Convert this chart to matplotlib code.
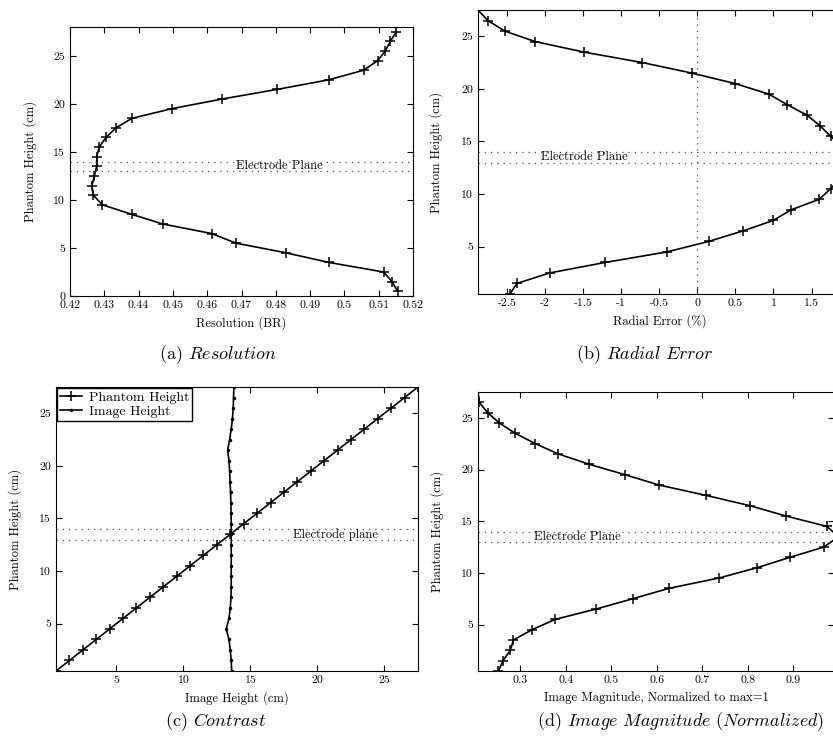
import numpy as np
import matplotlib
matplotlib.use('Agg')
import matplotlib.pyplot as plt
from matplotlib.ticker import FuncFormatter

plt.rcParams['font.family'] = ['cmr10', 'DejaVu Serif']
plt.rcParams['mathtext.fontset'] = 'cm'
plt.rcParams['axes.unicode_minus'] = False

# phantom heights sampled every cm
heights = np.arange(0.5, 28.0, 1.0)

# (a) resolution, listed from bottom (0.5 cm) to top (27.5 cm)
resolution = [0.5155, 0.5139, 0.5114, 0.4954, 0.4829, 0.4684, 0.4613, 0.4470,
              0.4380, 0.4294, 0.4268, 0.4264, 0.4271, 0.4278, 0.4278, 0.4285,
              0.4305, 0.4334, 0.4381, 0.4497, 0.4643, 0.4803, 0.4954, 0.5056,
              0.5097, 0.5119, 0.5134, 0.5151]

# (b) radial error in %
radial_error = [-2.46, -2.37, -1.94, -1.21, -0.40, 0.15, 0.60, 1.00,
                1.23, 1.60, 1.75, 1.875, 1.93, 1.96, 1.90, 1.75,
                1.61, 1.44, 1.18, 0.94, 0.50, -0.07, -0.72, -1.49,
                -2.13, -2.53, -2.75, -2.88]

# (c) image height of the target vs phantom height
image_height = [13.60, 13.57, 13.50, 13.40, 13.20, 13.40, 13.50, 13.55,
                13.57, 13.57, 13.57, 13.57, 13.57, 13.57, 13.57, 13.56,
                13.54, 13.52, 13.48, 13.45, 13.40, 13.30, 13.45, 13.57,
                13.66, 13.72, 13.74, 13.77]

# (d) image magnitude normalised to max = 1
magnitude = [0.252, 0.262, 0.278, 0.285, 0.326, 0.377, 0.467, 0.548,
             0.627, 0.737, 0.821, 0.893, 0.968, 1.000, 0.974, 0.884,
             0.805, 0.708, 0.605, 0.530, 0.452, 0.384, 0.333, 0.289,
             0.254, 0.228, 0.210, 0.207]

W, H = 833, 742
fig = plt.figure(figsize=(W / 100, H / 100), dpi=100)


def box(l, t, r, b):
    return [l / W, 1 - b / H, (r - l) / W, (b - t) / H]


fmt = FuncFormatter(lambda v, p: '{:g}'.format(round(v, 6)))
dots = dict(color='0.3', ls=(0, (1, 4)), lw=0.9)


def style(ax, xlabel):
    ax.tick_params(direction='in', top=True, right=True, length=4, labelsize=8.5)
    ax.set_xlabel(xlabel, fontsize=9)
    ax.set_ylabel('Phantom Height (cm)', fontsize=9)
    ax.yaxis.set_label_coords(-0.095, 0.5)
    ax.xaxis.set_major_formatter(fmt)
    ax.axhline(13, **dots)
    ax.axhline(14, **dots)


line_kw = dict(color='k', lw=1.2, marker='+', ms=7.5, mew=1.1)

# (a)
ax = fig.add_axes(box(70, 27, 413, 296))
ax.plot(resolution, heights, **line_kw)
ax.set_xlim(0.42, 0.52)
ax.set_ylim(0, 28)
ax.set_xticks(np.arange(0.42, 0.5201, 0.01))
ax.set_yticks([0, 5, 10, 15, 20, 25])
style(ax, 'Resolution (BR)')
ax.text(0.481, 13.5, 'Electrode Plane', ha='center', va='center', fontsize=9)

# (b)
ax = fig.add_axes(box(478, 10, 842, 294))
ax.plot(radial_error, heights, **line_kw)
ax.axvline(0, **dots)
ax.set_xlim(-2.88, 1.9)
ax.set_ylim(0.5, 27.5)
ax.set_xticks([-2.5, -2, -1.5, -1, -0.5, 0, 0.5, 1, 1.5])
ax.set_yticks([5, 10, 15, 20, 25])
style(ax, 'Radial Error (%)')
ax.text(-1.48, 13.5, 'Electrode Plane', ha='center', va='center', fontsize=9)

# (c)
ax = fig.add_axes(box(56, 387, 418, 671))
ax.plot(heights, heights, label='Phantom Height', **line_kw)
ax.plot(image_height, heights, color='k', lw=1.2, marker='.', ms=3,
        label='Image Height')
ax.set_xlim(0.5, 27.5)
ax.set_ylim(0.5, 27.5)
ax.set_xticks([5, 10, 15, 20, 25])
ax.set_yticks([5, 10, 15, 20, 25])
style(ax, 'Image Height (cm)')
ax.text(21.36, 13.5, 'Electrode plane', ha='center', va='center', fontsize=9)
leg = ax.legend(loc='upper left', fontsize=10, fancybox=False, framealpha=1,
                edgecolor='k', borderaxespad=0.1, handlelength=1.6,
                labelspacing=0.1, borderpad=0.2, handletextpad=0.5)
leg.get_frame().set_linewidth(1.0)

# (d)
ax = fig.add_axes(box(478, 392, 834, 671))
ax.plot(magnitude, heights, **line_kw)
ax.set_xlim(0.207, 0.99)
ax.set_ylim(0.5, 27.5)
ax.set_xticks([0.3, 0.4, 0.5, 0.6, 0.7, 0.8, 0.9])
ax.set_yticks([5, 10, 15, 20, 25])
style(ax, 'Image Magnitude, Normalized to max=1')
ax.text(0.425, 13.5, 'Electrode Plane', ha='center', va='center', fontsize=9)

# sub-figure captions
captions = [(218, 355, r'(a) $\mathit{Resolution}$'),
            (645, 355, r'(b) $\mathit{Radial\ Error}$'),
            (216, 722, r'(c) $\mathit{Contrast}$'),
            (681, 722, r'(d) $\mathit{Image\ Magnitude\ (Normalized)}$')]
for x, y, s in captions:
    fig.text(x / W, 1 - y / H, s, ha='center', va='center', fontsize=13)

fig.savefig('out.png', dpi=100)
